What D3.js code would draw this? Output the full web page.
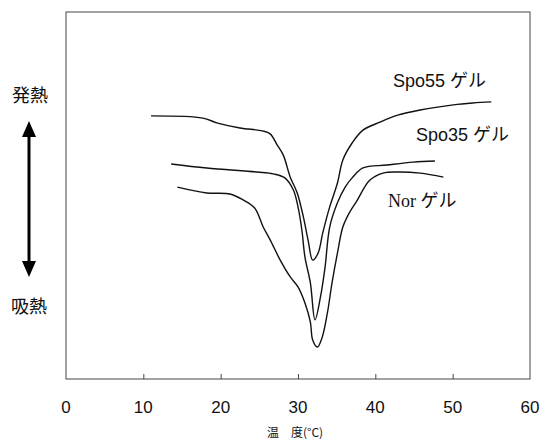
<html>
<head>
<meta charset="utf-8">
<title>DSC curves</title>
<style>
  body { margin: 0; padding: 0; background: white; }
  svg text { fill: #111; }
</style>
</head>
<body>
<svg id="chart" width="542" height="439"></svg>
<script src="https://d3js.org/d3.v7.min.js"></script>
<script>
// temperature (°C); heat flow in arbitrary units (0-100 = plot height)
var spo55Temp = [11.0, 17.7, 19.5, 22.5, 25.4, 26.4, 27.3, 28.1, 29.0, 29.9, 30.7, 31.3, 31.9, 32.6, 33.2, 34.1, 35.1, 35.8, 37.0, 38.4, 40.6, 42.9, 45.8, 50.1, 52.6, 55.0];
var spo55Flow = [71.7, 71.1, 69.8, 68.4, 67.6, 66.8, 63.8, 61.0, 55.0, 50.7, 44.1, 37.9, 32.4, 34.3, 39.8, 46.9, 53.4, 59.7, 64.3, 67.8, 70.0, 71.9, 73.3, 74.7, 75.2, 75.5];

var spo35Temp = [13.6, 18.2, 24.7, 26.8, 28.3, 29.4, 30.0, 30.5, 30.9, 31.6, 32.2, 32.9, 33.5, 34.1, 35.1, 36.1, 37.0, 38.4, 41.5, 44.9, 47.7];
var spo35Flow = [58.6, 57.5, 56.4, 55.9, 54.8, 51.5, 46.9, 40.6, 33.2, 26.2, 16.1, 22.3, 30.5, 41.4, 48.0, 52.3, 54.8, 57.5, 58.3, 59.1, 59.4];

var norTemp = [14.4, 18.2, 21.2, 22.9, 24.4, 25.5, 26.4, 27.7, 29.0, 30.0, 30.9, 31.6, 31.9, 32.5, 33.1, 33.8, 34.4, 35.1, 35.8, 36.7, 37.6, 39.3, 41.0, 42.8, 45.8, 48.8];
var norFlow = [52.3, 50.7, 50.4, 48.8, 46.6, 41.4, 37.9, 32.4, 27.8, 25.1, 20.7, 15.5, 10.6, 8.7, 11.2, 18.0, 26.2, 34.3, 41.4, 45.5, 48.5, 54.2, 56.1, 56.4, 56.1, 55.0];

var xTicks = [0, 10, 20, 30, 40, 50, 60];
var seriesNames = ["Spo55 ゲル", "Spo35 ゲル", "Nor ゲル"];

var svg = d3.select("#chart");
// plot box edges (don't call these top/left, window.top is read-only)
var boxLeft = 66, boxRight = 530, boxTop = 12, boxBottom = 379;

var x = d3.scaleLinear().domain([0, 60]).range([boxLeft, boxRight]);
var y = d3.scaleLinear().domain([0, 100]).range([boxBottom, boxTop]);

// frame
svg.append("rect")
  .attr("x", boxLeft).attr("y", boxTop)
  .attr("width", boxRight - boxLeft).attr("height", boxBottom - boxTop)
  .attr("fill", "none").attr("stroke", "#444").attr("stroke-width", 1);

// ticks inside the frame, labels below
var xAxis = d3.axisTop(x).tickValues(xTicks.slice(1, -1)).tickSize(5).tickFormat("");
svg.append("g").attr("transform", "translate(0," + boxBottom + ")").call(xAxis)
  .call(function(g) { g.select(".domain").remove(); })
  .selectAll("line").attr("stroke", "#444");

svg.selectAll(".xlab").data(xTicks).enter().append("text")
  .attr("class", "xlab")
  .attr("x", function(d) { return x(d); })
  .attr("y", 413)
  .attr("text-anchor", "middle")
  .attr("font-family", "'Liberation Sans', Arial, sans-serif")
  .attr("font-size", 17)
  .text(function(d) { return d; });

svg.append("text")
  .attr("x", 295).attr("y", 437)
  .attr("text-anchor", "middle")
  .attr("font-family", "'Noto Sans CJK JP', sans-serif")
  .attr("font-size", 12)
  .text("温　度(°C)");

// curves
var line = d3.line()
  .x(function(d) { return x(d[0]); })
  .y(function(d) { return y(d[1]); })
  .curve(d3.curveCatmullRom.alpha(0.5));

var curves = [d3.zip(spo55Temp, spo55Flow), d3.zip(spo35Temp, spo35Flow), d3.zip(norTemp, norFlow)];
svg.selectAll(".curve").data(curves).enter().append("path")
  .attr("class", "curve")
  .attr("d", line)
  .attr("fill", "none")
  .attr("stroke", "#111")
  .attr("stroke-width", 1.4);

// curve labels
svg.append("text").attr("x", 393).attr("y", 87)
  .attr("font-family", "'Liberation Sans', 'Noto Sans CJK JP', sans-serif")
  .attr("font-size", 18).text(seriesNames[0]);
svg.append("text").attr("x", 416).attr("y", 141)
  .attr("font-family", "'Liberation Sans', 'Noto Sans CJK JP', sans-serif")
  .attr("font-size", 18).text(seriesNames[1]);
svg.append("text").attr("x", 388).attr("y", 207)
  .attr("font-family", "'Liberation Serif', 'Noto Sans CJK JP', serif")
  .attr("font-size", 18).text(seriesNames[2]);

// exotherm / endotherm marker on the left
svg.append("text").attr("x", 30).attr("y", 102)
  .attr("text-anchor", "middle")
  .attr("font-family", "'Noto Sans CJK JP', sans-serif")
  .attr("font-size", 18).text("発熱");
svg.append("text").attr("x", 29).attr("y", 313)
  .attr("text-anchor", "middle")
  .attr("font-family", "'Noto Sans CJK JP', sans-serif")
  .attr("font-size", 18).text("吸熱");

svg.append("line")
  .attr("x1", 29).attr("x2", 29).attr("y1", 134).attr("y2", 264)
  .attr("stroke", "#000").attr("stroke-width", 3);
svg.append("path").attr("d", "M29,121 L22,137 L36,137 Z").attr("fill", "#000");
svg.append("path").attr("d", "M29,277 L22,261 L36,261 Z").attr("fill", "#000");
</script>
</body>
</html>
